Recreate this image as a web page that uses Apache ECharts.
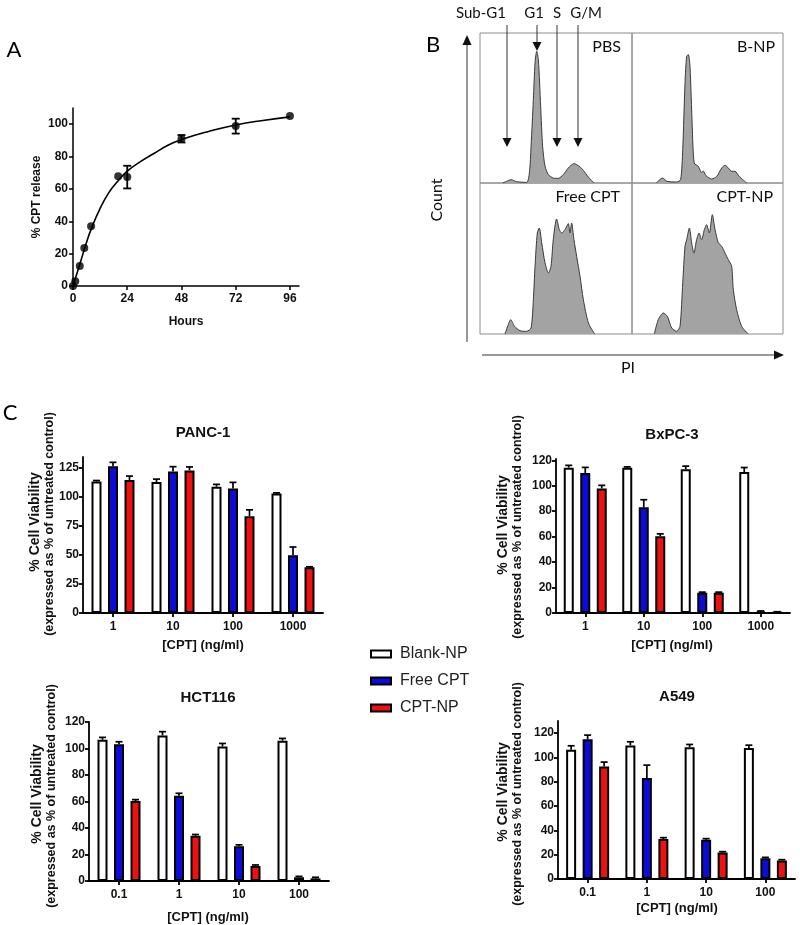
<!DOCTYPE html>
<html>
<head>
<meta charset="utf-8">
<script src="https://cdn.jsdelivr.net/npm/echarts@6/dist/echarts.min.js"></script>
<style>
  html, body { margin: 0; padding: 0; background: #fff; }
  #chart { width: 800px; height: 925px; }
</style>
</head>
<body>
<div id="chart"></div>
<script>
// ---- panel A: CPT release ----
const releaseHours = [0, 1, 3, 5, 8, 20, 24, 48, 72, 96]
const releasePct = [0, 3, 12.4, 23.5, 37, 67.8, 67.3, 91, 98.8, 105]
const releaseErr = [0, 0, 0, 0, 0, 0, 7, 2.3, 4.6, 0]
const fitHours = [0, 2, 4, 6, 8, 12, 16, 20, 24, 30, 36, 42, 48, 60, 72, 84, 96]
const fitPct = [0, 9, 18, 27, 35, 48, 58, 65, 71, 77, 82, 87, 90.5, 95.5, 99.5, 102.3, 104.5]
const hourTicks = [0, 24, 48, 72, 96]
const releaseTicks = [0, 20, 40, 60, 80, 100]

// ---- panel B: PI histograms (channel %, count %) ----
const pbsHist = [[14.9, 0], [17.5, 1.1], [20.4, 2.2], [24, 0.9], [30.7, 0.4], [32.5, 6.7], [33.6, 24.4], [35.1, 55.6], [36.2, 80], [37.3, 87.8], [38.4, 82.2], [39.9, 51.1], [41.2, 24.4], [42.8, 11.1], [45, 5.6], [48.2, 3.3], [51.5, 3.1], [54.8, 5.6], [58.1, 10], [61.8, 12.9], [65.4, 11.1], [68, 8.4], [71.3, 4], [75, 0]]
const bnpHist = [[16.1, 0], [18.3, 2.2], [20.3, 3.3], [23.2, 1.1], [29.6, 0.7], [32.2, 2.2], [33.6, 22.2], [35.1, 66.7], [36.2, 84.4], [37.3, 85.6], [38.4, 77.8], [39.9, 37.8], [41.2, 13.3], [43.9, 11.1], [46.1, 7.1], [47.2, 8], [49, 4.9], [52.8, 2.7], [56.1, 4.4], [59.4, 10], [61.6, 11.8], [63.8, 10], [66, 7.8], [68.2, 7.8], [71, 4.4], [75.9, 0]]
const freeHist = [[16.4, 0], [18.6, 6.2], [20.2, 9.5], [22.7, 5.1], [26.3, 2.2], [30.7, 1.8], [33.6, 4], [35.1, 22.7], [36.2, 44.8], [37.7, 66.9], [39, 70.2], [40.6, 60.3], [42.8, 47], [45, 40.4], [46.7, 44.8], [48.2, 62.5], [50.4, 76.2], [52.2, 69.1], [53.7, 66.9], [55.9, 69.1], [58.1, 73.1], [59.2, 66.9], [60.3, 73.5], [61.8, 62.5], [63.6, 51.4], [65.8, 38.2], [68, 22.7], [71.3, 7.3], [75, 0.7], [75.7, 0]]
const cptnpHist = [[14.8, 0], [17.4, 9.5], [20.7, 13.9], [23.4, 11.7], [26.3, 4], [29.6, 1.8], [31.8, 5.1], [33.6, 33.8], [35.1, 58.1], [36.2, 62.5], [38, 70.2], [39.5, 60.3], [41, 53.6], [42.8, 62.5], [44.4, 66.9], [46.1, 62.5], [47.9, 69.1], [49.4, 72.4], [51.2, 66.9], [53.2, 79], [55, 69.1], [57.2, 60.3], [59.4, 58.1], [61.6, 53.6], [63.8, 49.2], [66, 44.8], [67.1, 29.4], [69.3, 16.1], [72.6, 5.1], [77, 0]]

// ---- panel C: cell viability ----
const pancDoses = ['1', '10', '100', '1000']
const pancBlank = [113, 112.5, 108.5, 102.6]
const pancBlankErr = [0.8, 2.5, 2, 0.6]
const pancFree = [126, 121.5, 107, 49.7]
const pancFreeErr = [3.4, 4.2, 5.2, 7]
const pancNp = [114.2, 122.5, 83.2, 39.2]
const pancNpErr = [3.4, 3, 5.4, 0.5]

const bxpcDoses = ['1', '10', '100', '1000']
const bxpcBlank = [114.2, 114.2, 112.9, 110.8]
const bxpcBlankErr = [1.8, 0.6, 2.5, 3.5]
const bxpcFree = [110, 83, 16, 1.3]
const bxpcFreeErr = [4.4, 6, 0.4, 0.3]
const bxpcNp = [97.9, 60.4, 16, 0.8]
const bxpcNpErr = [2.4, 1.8, 0.4, 0.2]

const hctDoses = ['0.1', '1', '10', '100']
const hctBlank = [106.6, 109.9, 101.6, 105.9]
const hctBlankErr = [1.8, 2.8, 2.2, 1.7]
const hctFree = [103.3, 64.4, 26.3, 2.8]
const hctFreeErr = [1.8, 1.8, 1, 0.7]
const hctNp = [60.4, 34.1, 11.4, 2]
const hctNpErr = [1, 1, 0.7, 0.8]

const a549Doses = ['0.1', '1', '10', '100']
const a549Blank = [106.3, 109.9, 108.5, 107.7]
const a549BlankErr = [3.3, 3, 2.2, 2.4]
const a549Free = [115, 83, 32.3, 17]
const a549FreeErr = [3.4, 10.7, 0.9, 0.8]
const a549Np = [92.6, 32.9, 21.9, 15.3]
const a549NpErr = [3.6, 1.1, 0.6, 0.6]

const ticks25 = [0, 25, 50, 75, 100, 125]
const ticks20 = [0, 20, 40, 60, 80, 100, 120]

const ARIAL = '"Liberation Sans", Arial, sans-serif'
const CALIBRI = 'Lato, "Open Sans", sans-serif'
const BLUE = '#0c0cd6'
const RED = '#ee1111'
const BAR_W = 10
const BAR_GAP = 0.65

const chart = echarts.init(document.getElementById('chart'))

const grids = []
const xAxes = []
const yAxes = []
const series = []
const graphics = []

function text(x, y, str, font, opts = {}) {
  graphics.push({
    type: 'text',
    x, y,
    rotation: opts.rotation || 0,
    style: {
      text: str,
      font,
      fill: opts.fill || '#111',
      align: opts.align || 'center',
      verticalAlign: 'middle'
    }
  })
}

function axisStyle(lineWidth) {
  return {
    axisLine: { show: true, lineStyle: { color: '#000', width: lineWidth } },
    axisTick: { show: true, length: 4, lineStyle: { color: '#000', width: lineWidth } },
    splitLine: { show: false }
  }
}

// ---- panel A ----
grids.push({ left: 73, top: 108, width: 226, height: 178 })
xAxes.push({
  gridIndex: 0, type: 'value', min: 0, max: 100,
  ...axisStyle(1.5),
  axisTick: { show: true, length: 4, lineStyle: { color: '#000', width: 1.5 }, customValues: hourTicks },
  axisLabel: { customValues: hourTicks, margin: 7, color: '#111', fontFamily: ARIAL, fontWeight: 'bold', fontSize: 12 }
})
yAxes.push({
  gridIndex: 0, type: 'value', min: 0, max: 110,
  ...axisStyle(1.5),
  axisTick: { show: true, length: 4, lineStyle: { color: '#000', width: 1.5 }, customValues: releaseTicks },
  axisLabel: { customValues: releaseTicks, margin: 5, color: '#111', fontFamily: ARIAL, fontWeight: 'bold', fontSize: 12 }
})
series.push({
  type: 'line', xAxisIndex: 0, yAxisIndex: 0, smooth: true, showSymbol: false,
  lineStyle: { color: '#000', width: 1.6 },
  data: fitHours.map((h, i) => [h, fitPct[i]])
})
series.push({
  type: 'custom', xAxisIndex: 0, yAxisIndex: 0,
  data: releaseHours.map((h, i) => [h, releasePct[i], releaseErr[i]]),
  renderItem(params, api) {
    const e = api.value(2)
    if (!e) return
    const lo = api.coord([api.value(0), api.value(1) - e])
    const hi = api.coord([api.value(0), api.value(1) + e])
    const st = { stroke: '#000', lineWidth: 1.8 }
    return {
      type: 'group',
      children: [
        { type: 'line', shape: { x1: lo[0], y1: lo[1], x2: hi[0], y2: hi[1] }, style: st },
        { type: 'line', shape: { x1: lo[0] - 4, y1: lo[1], x2: lo[0] + 4, y2: lo[1] }, style: st },
        { type: 'line', shape: { x1: hi[0] - 4, y1: hi[1], x2: hi[0] + 4, y2: hi[1] }, style: st }
      ]
    }
  }
})
series.push({
  type: 'scatter', xAxisIndex: 0, yAxisIndex: 0, symbolSize: 8,
  itemStyle: { color: '#000' },
  data: releaseHours.map((h, i) => [h, releasePct[i]])
})
text(14, 50, 'A', '22px ' + CALIBRI, { fill: '#000' })
text(37, 197, '% CPT release', 'bold 12px ' + ARIAL, { rotation: Math.PI / 2 })
text(186, 322, 'Hours', 'bold 12px ' + ARIAL)

// ---- panel B ----
const histCells = [
  { hist: pbsHist, left: 480, top: 33, width: 152, height: 150 },
  { hist: bnpHist, left: 632, top: 33, width: 151, height: 150 },
  { hist: freeHist, left: 480, top: 183, width: 152, height: 151 },
  { hist: cptnpHist, left: 632, top: 183, width: 151, height: 151 }
]
histCells.forEach((c) => {
  const gi = grids.length
  grids.push({ left: c.left, top: c.top, width: c.width, height: c.height, show: true, borderColor: '#8c8c8c', borderWidth: 1 })
  xAxes.push({ gridIndex: gi, type: 'value', min: 0, max: 100, show: false })
  yAxes.push({ gridIndex: gi, type: 'value', min: 0, max: 100, show: false })
  series.push({
    type: 'line', xAxisIndex: gi, yAxisIndex: gi, smooth: 0.25, showSymbol: false,
    lineStyle: { color: '#3a3a3a', width: 1 },
    areaStyle: { color: '#a3a3a3', opacity: 1 },
    data: c.hist
  })
})
text(433, 45, 'B', '22px ' + CALIBRI, { fill: '#000' })
text(621, 47, 'PBS', '16px ' + CALIBRI, { align: 'right' })
text(775, 47, 'B-NP', '16px ' + CALIBRI, { align: 'right' })
text(620, 197, 'Free CPT', '16px ' + CALIBRI, { align: 'right' })
text(773, 197, 'CPT-NP', '16px ' + CALIBRI, { align: 'right' })
text(481, 13, 'Sub-G1', '15px ' + CALIBRI)
text(534, 13, 'G1', '15px ' + CALIBRI)
text(557, 13, 'S', '15px ' + CALIBRI)
text(586, 13, 'G/M', '15px ' + CALIBRI)
text(437, 200, 'Count', '16px ' + CALIBRI, { rotation: Math.PI / 2 })
text(628, 368, 'PI', '16px ' + CALIBRI)

function arrowDown(x, y1, y2) {
  graphics.push({ type: 'line', shape: { x1: x, y1, x2: x, y2: y2 - 8 }, style: { stroke: '#333', lineWidth: 1 } })
  graphics.push({ type: 'polygon', shape: { points: [[x - 4.5, y2 - 9], [x + 4.5, y2 - 9], [x, y2]] }, style: { fill: '#111' } })
}
arrowDown(507, 25, 147)
arrowDown(537, 25, 51)
arrowDown(557, 25, 147)
arrowDown(578, 25, 147)
// axis arrows
graphics.push({ type: 'line', shape: { x1: 467, y1: 342, x2: 467, y2: 44 }, style: { stroke: '#333', lineWidth: 1 } })
graphics.push({ type: 'polygon', shape: { points: [[462.5, 45], [471.5, 45], [467, 35]] }, style: { fill: '#111' } })
graphics.push({ type: 'line', shape: { x1: 482, y1: 355, x2: 775, y2: 355 }, style: { stroke: '#333', lineWidth: 1 } })
graphics.push({ type: 'polygon', shape: { points: [[774, 350.5], [774, 359.5], [784, 355]] }, style: { fill: '#111' } })

// ---- panel C ----
function barPanel(cfg) {
  const gi = grids.length
  grids.push({ left: cfg.left, top: cfg.top, width: cfg.width, height: cfg.height })
  xAxes.push({
    gridIndex: gi, type: 'category', data: cfg.doses,
    ...axisStyle(1.8),
    axisTick: { show: true, alignWithLabel: true, length: 4, lineStyle: { color: '#000', width: 1.8 } },
    axisLabel: { margin: 8, color: '#111', fontFamily: ARIAL, fontWeight: 'bold', fontSize: 12 }
  })
  yAxes.push({
    gridIndex: gi, type: 'value', min: 0, max: cfg.max,
    ...axisStyle(1.8),
    axisTick: { show: true, length: 4, lineStyle: { color: '#000', width: 1.8 }, customValues: cfg.ticks },
    axisLabel: { customValues: cfg.ticks, margin: 4, color: '#111', fontFamily: ARIAL, fontWeight: 'bold', fontSize: 12 }
  })
  const groups = [
    { name: 'Blank-NP', color: '#fff', vals: cfg.blank, errs: cfg.blankErr },
    { name: 'Free CPT', color: BLUE, vals: cfg.free, errs: cfg.freeErr },
    { name: 'CPT-NP', color: RED, vals: cfg.np, errs: cfg.npErr }
  ]
  groups.forEach((g, k) => {
    const offset = (k - 1) * BAR_W * (1 + BAR_GAP)
    series.push({
      type: 'custom', xAxisIndex: gi, yAxisIndex: gi, z: 1,
      data: g.vals.map((v, i) => [i, v, g.errs[i]]),
      renderItem(params, api) {
        const base = api.coord([api.value(0), api.value(1)])
        const top = api.coord([api.value(0), api.value(1) + api.value(2)])
        const x = base[0] + offset
        const st = { stroke: '#000', lineWidth: 1.7 }
        return {
          type: 'group',
          children: [
            { type: 'line', shape: { x1: x, y1: base[1], x2: x, y2: top[1] }, style: st },
            { type: 'line', shape: { x1: x - 3.5, y1: top[1], x2: x + 3.5, y2: top[1] }, style: st }
          ]
        }
      }
    })
  })
  groups.forEach((g) => {
    series.push({
      type: 'bar', name: g.name, xAxisIndex: gi, yAxisIndex: gi, z: 2,
      barWidth: BAR_W, barGap: (BAR_GAP * 100) + '%',
      itemStyle: { color: g.color, borderColor: '#000', borderWidth: 2 },
      data: g.vals
    })
  })
  text(cfg.titleX, cfg.titleY, cfg.title, 'bold 15px ' + ARIAL)
  text(cfg.titleX, cfg.xNameY, '[CPT] (ng/ml)', 'bold 13px ' + ARIAL)
  text(cfg.yNameX, cfg.yNameY, '% Cell Viability', 'bold 14px ' + ARIAL, { rotation: Math.PI / 2 })
  text(cfg.yNameX + 15, cfg.yNameY + 2, '(expressed as % of untreated control)', 'bold 12.5px ' + ARIAL, { rotation: Math.PI / 2 })
}

barPanel({
  title: 'PANC-1', titleX: 203, titleY: 433, xNameY: 645, yNameX: 35, yNameY: 522,
  left: 83, top: 457, width: 240, height: 156, max: 134, ticks: ticks25, doses: pancDoses,
  blank: pancBlank, blankErr: pancBlankErr, free: pancFree, freeErr: pancFreeErr, np: pancNp, npErr: pancNpErr
})
barPanel({
  title: 'BxPC-3', titleX: 672, titleY: 435, xNameY: 645, yNameX: 503, yNameY: 525,
  left: 556, top: 459, width: 234, height: 154, max: 121, ticks: ticks20, doses: bxpcDoses,
  blank: bxpcBlank, blankErr: bxpcBlankErr, free: bxpcFree, freeErr: bxpcFreeErr, np: bxpcNp, npErr: bxpcNpErr
})
barPanel({
  title: 'HCT116', titleX: 208, titleY: 698, xNameY: 917, yNameX: 37, yNameY: 794,
  left: 89, top: 722, width: 240, height: 159, max: 120, ticks: ticks20, doses: hctDoses,
  blank: hctBlank, blankErr: hctBlankErr, free: hctFree, freeErr: hctFreeErr, np: hctNp, npErr: hctNpErr
})
barPanel({
  title: 'A549', titleX: 677, titleY: 697, xNameY: 908, yNameX: 503, yNameY: 792,
  left: 558, top: 721, width: 237, height: 158, max: 130, ticks: ticks20, doses: a549Doses,
  blank: a549Blank, blankErr: a549BlankErr, free: a549Free, freeErr: a549FreeErr, np: a549Np, npErr: a549NpErr
})
text(10, 413, 'C', '22px ' + CALIBRI, { fill: '#000' })

chart.setOption({
  animation: false,
  backgroundColor: '#fff',
  grid: grids,
  xAxis: xAxes,
  yAxis: yAxes,
  legend: {
    orient: 'vertical',
    left: 365,
    top: 641,
    itemWidth: 20,
    itemHeight: 7,
    itemGap: 11,
    textStyle: { fontFamily: ARIAL, fontSize: 16, color: '#222', padding: [0, 0, 0, 4] },
    selectedMode: false,
    data: [
      { name: 'Blank-NP', icon: 'rect', itemStyle: { color: '#fff', borderColor: '#000', borderWidth: 2 } },
      { name: 'Free CPT', icon: 'rect', itemStyle: { color: BLUE, borderColor: '#000', borderWidth: 2 } },
      { name: 'CPT-NP', icon: 'rect', itemStyle: { color: RED, borderColor: '#000', borderWidth: 2 } }
    ]
  },
  graphic: graphics,
  series
})
</script>
</body>
</html>
